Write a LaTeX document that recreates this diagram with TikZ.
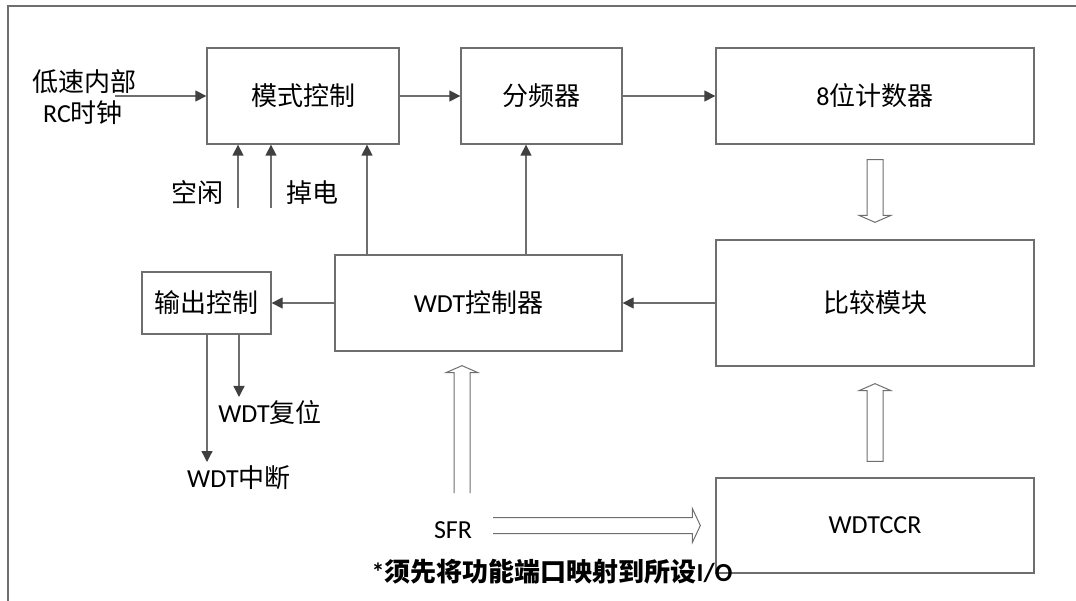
\documentclass[tikz,border=0pt]{standalone}
\usepackage{fontspec}
\setmainfont{Carlito}
\newfontfamily\cjk{Noto Sans CJK SC}
\usetikzlibrary{arrows.meta}
\definecolor{linec}{RGB}{110,110,110}
\definecolor{tipc}{RGB}{64,64,64}
\newcommand\zh[1]{{\cjk #1}}
\tikzset{
  blk/.style={draw=linec, line width=1.3pt, inner sep=0pt},
  arr/.style={draw=linec, line width=1.3pt, -{Triangle[length=11pt,width=11pt,color=tipc]}},
  hollow/.style={draw=linec, line width=1pt},
  lbl/.style={inner sep=0pt}
}
% hollow arrows: #1 tail, #2 tip, #3 "-- cycle" or empty
\newcommand\fatup[3]{\draw[hollow] ([xshift=-8pt]#1) -- ([xshift=-8pt,yshift=-7pt]#2) -- ([xshift=-16pt,yshift=-7pt]#2) -- (#2) -- ([xshift=16pt,yshift=-7pt]#2) -- ([xshift=8pt,yshift=-7pt]#2) -- ([xshift=8pt]#1) #3;}
\newcommand\fatdown[3]{\draw[hollow] ([xshift=-8pt]#1) -- ([xshift=-8pt,yshift=7pt]#2) -- ([xshift=-16pt,yshift=7pt]#2) -- (#2) -- ([xshift=16pt,yshift=7pt]#2) -- ([xshift=8pt,yshift=7pt]#2) -- ([xshift=8pt]#1) #3;}
\newcommand\fatright[3]{\draw[hollow] ([yshift=8pt]#1) -- ([xshift=-8pt,yshift=8pt]#2) -- ([xshift=-8pt,yshift=17pt]#2) -- (#2) -- ([xshift=-8pt,yshift=-17pt]#2) -- ([xshift=-8pt,yshift=-8pt]#2) -- ([yshift=-8pt]#1) #3;}
\begin{document}
\begin{tikzpicture}[x=1pt,y=-1pt,font=\fontsize{26}{30}\selectfont]
\useasboundingbox (0,0) rectangle (1076,601);
\draw[linec,line width=1.3pt] (1076,6) -- (8,6) -- (8,601);
% blocks
\node[blk,minimum width=192pt,minimum height=96pt] (mode) at (303,96) {\zh{模式控制}};
\node[blk,minimum width=161pt,minimum height=96pt] (div) at (541.5,96) {\zh{分频器}};
\node[blk,minimum width=318pt,minimum height=96pt] (cnt) at (875,96) {8\zh{位计数器}};
\node[blk,minimum width=318pt,minimum height=126pt] (cmp) at (875,303) {\zh{比较模块}};
\node[blk,minimum width=318pt,minimum height=95pt] (ccr) at (875,525.5) {WDTCCR};
\node[blk,minimum width=287pt,minimum height=96pt] (ctl) at (478.5,303) {WDT\zh{控制器}};
\node[blk,minimum width=129pt,minimum height=62pt] (out) at (206.5,303) {\zh{输出控制}};
% labels
\node[lbl] (clk1) at (84,82) {\zh{低速内部}};
\node[lbl] (clk2) at (83,113) {RC\zh{时钟}};
\node[lbl] (idle) at (197,193) {\zh{空闲}};
\node[lbl] (pd) at (312,193) {\zh{掉电}};
\node[lbl] (rstl) at (270,413) {WDT\zh{复位}};
\node[lbl] (irql) at (239,478) {WDT\zh{中断}};
\node[lbl] (sfr) at (453,530) {SFR};
\node[lbl,font=\fontsize{26}{30}\selectfont\bfseries] (note) at (552,572) {*\zh{须先将功能端口映射到所设}I/O};
% thin arrows
\coordinate (rc) at (115,96);
\coordinate (i0) at (238,208);
\coordinate (p0) at (271,208);
\coordinate (rst) at (239,397);
\coordinate (irq) at (207,462);
\draw[arr] (rc) -- (mode.west);
\draw[arr] (mode.east) -- (div.west);
\draw[arr] (div.east) -- (cnt.west);
\draw[arr] (i0) -- (mode.south -| i0);
\draw[arr] (p0) -- (mode.south -| p0);
\draw[arr] (ctl.north -| 367,0) -- (mode.south -| 367,0);
\draw[arr] (ctl.north -| 526,0) -- (div.south -| 526,0);
\draw[arr] (cmp.west) -- (ctl.east);
\draw[arr] (ctl.west) -- (out.east);
\draw[arr] (out.south -| rst) -- (rst);
\draw[arr] (out.south -| irq) -- (irq);
% hollow arrows
\coordinate (d0) at ([yshift=-15pt]cnt.south);
\coordinate (d1) at ([yshift=17pt]cmp.north);
\coordinate (u0) at ([yshift=16pt]ccr.north);
\coordinate (u1) at ([yshift=-17pt]cmp.south);
\coordinate (s0) at (462,493);
\coordinate (s1) at ([yshift=-14pt]ctl.south -| s0);
\coordinate (r0) at (493,525.5);
\coordinate (r1) at ([xshift=-15pt]ccr.west);
\fatdown{d0}{d1}{-- cycle}
\fatup{u0}{u1}{-- cycle}
\fatup{s0}{s1}{}
\fatright{r0}{r1}{}
\end{tikzpicture}
\end{document}
